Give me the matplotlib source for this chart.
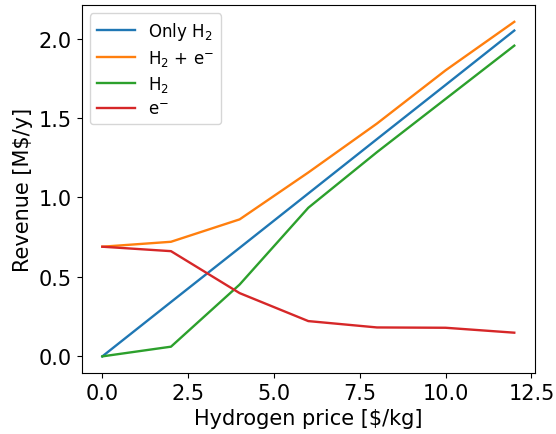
import matplotlib
matplotlib.use("Agg")
import matplotlib.pyplot as plt

# Hydrogen price scenarios [$/kg]
h2_price = [0, 2, 4, 6, 8, 10, 12]

# Revenue per strategy [M$/y]
rev_only_h2 = [0.0, 0.342, 0.683, 1.025, 1.367, 1.708, 2.05]
rev_h2_plus_e = [0.69, 0.721, 0.862, 1.157, 1.465, 1.80, 2.105]
rev_h2 = [0.0, 0.061, 0.452, 0.935, 1.285, 1.62, 1.955]
rev_e = [0.69, 0.662, 0.398, 0.222, 0.182, 0.18, 0.149]

series_labels = ["Only H$_2$", "H$_2$ + e$^{-}$", "H$_2$", "e$^{-}$"]

fig = plt.figure(figsize=(5.56, 4.35), dpi=100)
ax = fig.add_axes([0.147, 0.140, 0.815, 0.846])

for values, label in zip([rev_only_h2, rev_h2_plus_e, rev_h2, rev_e], series_labels):
    ax.plot(h2_price, values, label=label, linewidth=1.7)

ax.set_xlabel("Hydrogen price [$/kg]", fontsize=15)
ax.set_ylabel("Revenue [M$/y]", fontsize=15)
ax.tick_params(labelsize=15)
ax.set_xticks([0, 2.5, 5, 7.5, 10, 12.5])
ax.set_yticks([0, 0.5, 1.0, 1.5, 2.0])
ax.legend(loc="upper left", fontsize=12, labelspacing=0.35, handlelength=2.3)

fig.savefig("out.png", dpi=100)
